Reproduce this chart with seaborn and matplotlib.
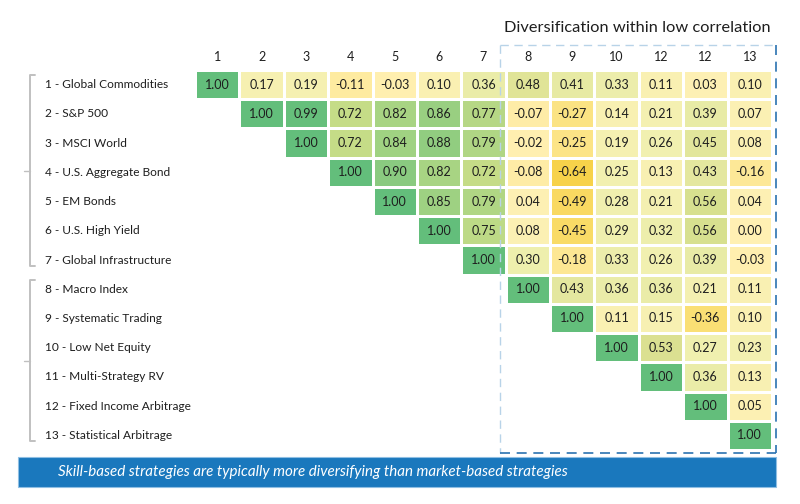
import numpy as np
import pandas as pd
import matplotlib.pyplot as plt
import seaborn as sns
from matplotlib.colors import LinearSegmentedColormap, Normalize
from matplotlib.patches import Rectangle
from matplotlib.lines import Line2D
import matplotlib.transforms as mtransforms

# %% data
row_labels = [
    "1 - Global Commodities", "2 - S&P 500", "3 - MSCI World",
    "4 - U.S. Aggregate Bond", "5 - EM Bonds", "6 - U.S. High Yield",
    "7 - Global Infrastructure", "8 - Macro Index", "9 - Systematic Trading",
    "10 - Low Net Equity", "11 - Multi-Strategy RV",
    "12 - Fixed Income Arbitrage", "13 - Statistical Arbitrage",
]
col_labels = ["1", "2", "3", "4", "5", "6", "7", "8", "9", "10", "12", "12", "13"]

# upper triangle, one list per row starting at the diagonal
row1 = [1.00, 0.17, 0.19, -0.11, -0.03, 0.10, 0.36, 0.48, 0.41, 0.33, 0.11, 0.03, 0.10]
row2 = [1.00, 0.99, 0.72, 0.82, 0.86, 0.77, -0.07, -0.27, 0.14, 0.21, 0.39, 0.07]
row3 = [1.00, 0.72, 0.84, 0.88, 0.79, -0.02, -0.25, 0.19, 0.26, 0.45, 0.08]
row4 = [1.00, 0.90, 0.82, 0.72, -0.08, -0.64, 0.25, 0.13, 0.43, -0.16]
row5 = [1.00, 0.85, 0.79, 0.04, -0.49, 0.28, 0.21, 0.56, 0.04]
row6 = [1.00, 0.75, 0.08, -0.45, 0.29, 0.32, 0.56, 0.00]
row7 = [1.00, 0.30, -0.18, 0.33, 0.26, 0.39, -0.03]
row8 = [1.00, 0.43, 0.36, 0.36, 0.21, 0.11]
row9 = [1.00, 0.11, 0.15, -0.36, 0.10]
row10 = [1.00, 0.53, 0.27, 0.23]
row11 = [1.00, 0.36, 0.13]
row12 = [1.00, 0.05]
row13 = [1.00]

title = "Diversification within low correlation"
banner = "Skill-based strategies are typically more diversifying than market-based strategies"

rows = [row1, row2, row3, row4, row5, row6, row7, row8, row9, row10, row11, row12, row13]
n = len(rows)
mat = np.full((n, n), np.nan)
for i, r in enumerate(rows):
    mat[i, i:] = r
df = pd.DataFrame(mat, index=row_labels, columns=col_labels)

# %% style
sns.set_theme(style="white")
plt.rcParams["font.family"] = ["Lato", "DejaVu Sans"]

cmap = LinearSegmentedColormap.from_list(
    "corr",
    [
        (0.00, "#f7d24a"),
        (0.20, "#fbe17c"),
        (0.39, "#fff0b4"),
        (0.55, "#f1f0b0"),
        (0.63, "#e8eba6"),
        (0.70, "#dde192"),
        (0.83, "#c6dc87"),
        (0.91, "#9ed182"),
        (1.00, "#63be7b"),
    ],
)
norm = Normalize(vmin=-0.64, vmax=1.0)

fig = plt.figure(figsize=(8, 5.04), dpi=100)
W, H = 800, 504
ax = fig.add_axes([195 / W, (H - 450) / H, 577 / W, 380 / H])
ax.patch.set_visible(False)

sns.heatmap(
    df, ax=ax, cmap=cmap, norm=norm, cbar=False, annot=True, fmt=".2f",
    annot_kws={"fontsize": 9, "color": "#1e1e1e"},
    linewidths=1, linecolor="white", square=False,
)

ax.xaxis.tick_top()
ax.tick_params(axis="x", length=0, pad=5, labelsize=9, labelcolor="#1e1e1e")
ax.tick_params(axis="y", length=0, pad=108, labelsize=8.6, labelcolor="#1e1e1e")
plt.setp(ax.get_xticklabels(), rotation=0)
plt.setp(ax.get_yticklabels(), rotation=0, ha="left")
ax.yaxis.set_zorder(5)
ax.set_xlabel("")
ax.set_ylabel("")

# group brackets on the left
tr = mtransforms.blended_transform_factory(fig.transFigure, ax.transData)
gray = "#c0c0c0"
for top, bot in [(0, 7), (7, 13)]:
    y0, y1 = top + 0.18, bot - 0.3
    xs = [35 / W, 30 / W, 30 / W, 35 / W]
    ax.add_line(Line2D(xs, [y0, y0, y1, y1], transform=tr, color=gray, lw=1.4, clip_on=False))
    ym = (y0 + y1) / 2
    ax.add_line(Line2D([24 / W, 30 / W], [ym, ym], transform=tr, color=gray, lw=1.0, clip_on=False))

# dashed box around the low-correlation block
light = "#b8d3e8"
dark = "#2a72b0"
bx0, bx1, by0, by1 = 6.87, 13.1, -0.86, 13.1
ax.plot([bx0, bx1], [by0, by0], color=light, lw=1.0, ls=(0, (6, 4)), clip_on=False)
ax.plot([bx0, bx0], [by0, by1], color=light, lw=1.0, ls=(0, (6, 4)), clip_on=False)
ax.plot([bx1, bx1], [by0, by1], color=dark, lw=1.2, ls=(0, (6, 4)), clip_on=False)
ax.plot([bx0, bx1], [by1, by1], color=dark, lw=1.2, ls=(0, (6, 4)), clip_on=False)

fig.text(771 / W, 1 - 28 / H, title, ha="right", va="center", fontsize=11.8, color="#1e1e1e")

# bottom banner
fig.patches.append(Rectangle((18 / W, 1 - 487 / H), 758 / W, 30 / H, transform=fig.transFigure,
                             facecolor="#1a78bd", edgecolor="#8fbfe3", lw=0.8))
fig.text(58 / W, 1 - 472 / H, banner, ha="left", va="center", fontsize=10.9,
         style="italic", color="white")

fig.savefig("out.png", dpi=100)
